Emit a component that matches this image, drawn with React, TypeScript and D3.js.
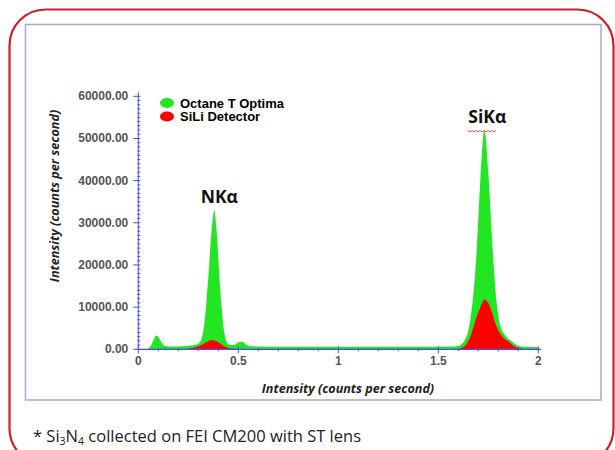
import React, { useEffect, useRef } from "react";
import * as d3 from "d3";

// energy (x) and intensity values
const octaneX = [0, 0.04, 0.06, 0.08, 0.09, 0.1, 0.12, 0.14, 0.18, 0.22, 0.26, 0.29, 0.31, 0.33, 0.35, 0.37, 0.38, 0.39, 0.41, 0.43, 0.45, 0.48, 0.5, 0.52, 0.54, 0.57, 0.6, 0.8, 1.0, 1.2, 1.4, 1.55, 1.6, 1.63, 1.66, 1.69, 1.71, 1.73, 1.75, 1.77, 1.79, 1.81, 1.84, 1.87, 1.9, 1.93, 2.0];
const octaneY = [0, 0, 600, 2600, 3300, 3000, 1300, 700, 650, 700, 900, 1100, 1800, 6000, 17000, 30000, 33000, 29000, 14000, 4000, 1200, 1000, 1700, 1800, 1100, 700, 650, 600, 600, 600, 600, 650, 800, 2000, 7000, 22000, 40000, 52000, 42000, 25000, 12000, 5500, 3000, 1800, 800, 600, 500];

const siliX = [0, 0.2, 0.25, 0.3, 0.34, 0.37, 0.4, 0.43, 0.46, 0.5, 0.55, 0.6, 1.55, 1.6, 1.63, 1.66, 1.69, 1.72, 1.73, 1.75, 1.77, 1.79, 1.82, 1.85, 1.88, 1.92, 1.95, 2.0];
const siliY = [0, 0, 150, 700, 1700, 2200, 1700, 700, 200, 100, 50, 0, 0, 100, 700, 3000, 7500, 11000, 11800, 11000, 8500, 5500, 3000, 1900, 700, 150, 0, 0];

const seriesNames = ["Octane T Optima", "SiLi Detector"];
const seriesColors = ["#22e622", "#ff0000"];
const yTicks = [0, 10000, 20000, 30000, 40000, 50000, 60000];
const xTicks = [0, 0.5, 1, 1.5, 2];
const peakLabels = [
  { x: 0.4, label: "NKα" },
  { x: 1.75, label: "SiKα" },
];

const W = 615;
const H = 450;

export default function App() {
  const ref = useRef<SVGSVGElement>(null);

  useEffect(() => {
    const svg = d3.select(ref.current);
    svg.selectAll("*").remove();

    const x = d3.scaleLinear().domain([0, 2]).range([138.3, 538.3]);
    const y = d3.scaleLinear().domain([0, 60000]).range([349.3, 96.3]);
    const axisColor = "#4b4bee";

    // outer rounded frame and inner chart frame
    svg.append("rect")
      .attr("x", 9.5).attr("y", 9.5).attr("width", 604).attr("height", 455)
      .attr("rx", 36).attr("ry", 36)
      .attr("fill", "none").attr("stroke", "#cc1f28").attr("stroke-width", 2.2);
    svg.append("rect")
      .attr("x", 25.5).attr("y", 24.5).attr("width", 575.5).attr("height", 375.5)
      .attr("fill", "none").attr("stroke", "#a8a8d4").attr("stroke-width", 1.5);

    // areas
    const area = d3.area<[number, number]>()
      .x((d) => x(d[0]))
      .y0(y(0))
      .y1((d) => y(d[1]))
      .curve(d3.curveMonotoneX);

    const octane: [number, number][] = octaneX.map((v, i) => [v, octaneY[i]]);
    const sili: [number, number][] = siliX.map((v, i) => [v, siliY[i]]);

    svg.append("path").attr("d", area(octane)).attr("fill", seriesColors[0]);
    svg.append("path").attr("d", area(sili)).attr("fill", seriesColors[1]);

    // y axis
    const gy = svg.append("g");
    gy.append("line")
      .attr("x1", x(0)).attr("x2", x(0))
      .attr("y1", y(60000) - 4).attr("y2", y(0))
      .attr("stroke", axisColor).attr("stroke-width", 1);
    d3.range(0, 60001, 1000).forEach((v) => {
      const major = v % 10000 === 0;
      gy.append("line")
        .attr("x1", major ? x(0) - 5 : x(0) - 1).attr("x2", x(0) + 2)
        .attr("y1", y(v)).attr("y2", y(v))
        .attr("stroke", axisColor).attr("stroke-width", 1);
    });
    gy.selectAll("text.yt")
      .data(yTicks)
      .enter()
      .append("text")
      .attr("class", "yt")
      .attr("x", x(0) - 10)
      .attr("y", (d) => y(d) + 4)
      .attr("text-anchor", "end")
      .attr("font-family", "Liberation Sans, Arial, sans-serif")
      .attr("font-size", 12).attr("font-weight", "bold")
      .attr("fill", "#555")
      .text((d) => d3.format(".2f")(d));

    // x axis
    const gx = svg.append("g");
    gx.append("line")
      .attr("x1", x(0)).attr("x2", x(2) + 3)
      .attr("y1", y(0)).attr("y2", y(0))
      .attr("stroke", axisColor).attr("stroke-width", 1.2);
    d3.range(0, 21).forEach((i) => {
      const major = i % 5 === 0;
      gx.append("line")
        .attr("x1", x(i / 10)).attr("x2", x(i / 10))
        .attr("y1", y(0) - (major ? 3 : 1)).attr("y2", y(0) + (major ? 4 : 2))
        .attr("stroke", axisColor).attr("stroke-width", 1);
    });
    gx.selectAll("text.xt")
      .data(xTicks)
      .enter()
      .append("text")
      .attr("class", "xt")
      .attr("x", (d) => x(d))
      .attr("y", y(0) + 16)
      .attr("text-anchor", "middle")
      .attr("font-family", "Liberation Sans, Arial, sans-serif")
      .attr("font-size", 12).attr("font-weight", "bold")
      .attr("fill", "#555")
      .text((d) => String(d));

    // axis titles
    svg.append("text")
      .attr("x", 348).attr("y", 393)
      .attr("text-anchor", "middle")
      .attr("font-family", "Open Sans, sans-serif")
      .attr("font-size", 12.6).attr("font-weight", "bold").attr("font-style", "italic")
      .attr("fill", "#222")
      .text("Intensity (counts per second)");
    svg.append("text")
      .attr("transform", "translate(59,196) rotate(-90)")
      .attr("text-anchor", "middle")
      .attr("font-family", "Open Sans, sans-serif")
      .attr("font-size", 12.6).attr("font-weight", "bold").attr("font-style", "italic")
      .attr("fill", "#222")
      .text("Intensity (counts per second)");

    // legend
    seriesNames.forEach((name, i) => {
      svg.append("ellipse")
        .attr("cx", 167).attr("cy", 103 + i * 13.5)
        .attr("rx", 7).attr("ry", 5)
        .attr("fill", seriesColors[i]);
      svg.append("text")
        .attr("x", 180).attr("y", 107.5 + i * 13.5)
        .attr("font-family", "Liberation Sans, Arial, sans-serif")
        .attr("font-size", 13).attr("font-weight", "bold")
        .attr("fill", "#000")
        .text(name);
    });

    // peak labels
    const peakY = [
      octaneY[octaneX.indexOf(0.38)],
      octaneY[octaneX.indexOf(1.73)],
    ];
    peakLabels.forEach((p, i) => {
      svg.append("text")
        .attr("x", x(p.x) + (i === 0 ? 1 : -1))
        .attr("y", y(peakY[i]) - 7)
        .attr("text-anchor", "middle")
        .attr("font-family", "Open Sans, sans-serif")
        .attr("font-size", 17.5).attr("font-weight", "bold")
        .attr("fill", "#111")
        .text(p.label);
    });
    // spell-check squiggle under SiKα
    const sq = d3.range(0, 15).map((i) => [468 + i * 2, 130.5 + (i % 2 === 0 ? 0 : 1.5)] as [number, number]);
    svg.append("path")
      .attr("d", d3.line()(sq))
      .attr("fill", "none").attr("stroke", "#e03030").attr("stroke-width", 0.8);

    // footnote
    const note = svg.append("text")
      .attr("x", 33).attr("y", 442)
      .attr("font-family", "Open Sans, sans-serif")
      .attr("font-size", 16.5)
      .attr("fill", "#222");
    note.append("tspan").text("* Si");
    note.append("tspan").attr("font-size", 10.5).attr("dy", 3).text("3");
    note.append("tspan").attr("dy", -3).text("N");
    note.append("tspan").attr("font-size", 10.5).attr("dy", 3).text("4");
    note.append("tspan").attr("dy", -3).text(" collected on FEI CM200 with ST lens");
  }, []);

  return (
    <svg
      ref={ref}
      width={W}
      height={H}
      style={{ position: "absolute", left: 0, top: 0, background: "#fff" }}
    />
  );
}
